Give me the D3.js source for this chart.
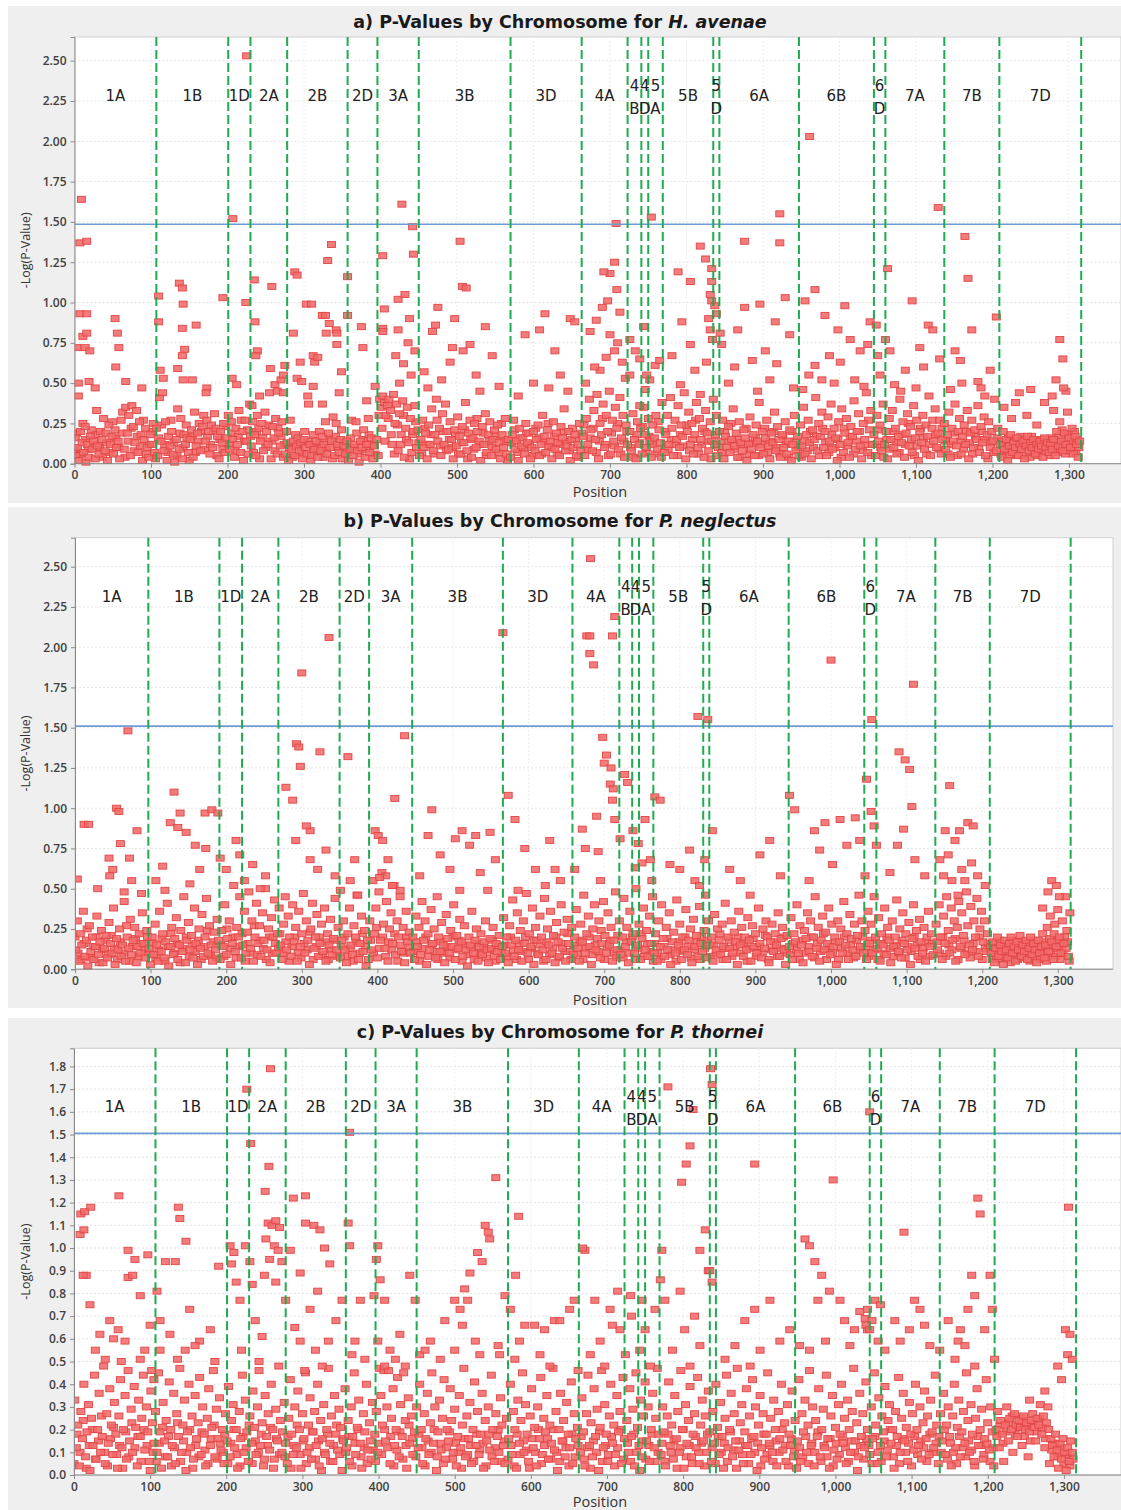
<!DOCTYPE html>
<html><head><meta charset="utf-8">
<script src="https://cdn.jsdelivr.net/npm/d3@7"></script>
<style>body{margin:0;background:#fff;}svg{display:block;font-family:'Open Sans',sans-serif;}</style>
</head><body><svg id="chart" width="1121" height="1510"></svg>
<script>
// ---------- DATA ----------
const chromosomes = ["1A","1B","1D","2A","2B","2D","3A","3B","3D","4A","4B","4D","5A","5B","5D","6A","6B","6D","7A","7B","7D"];
const chromEndsAC = [107,201,230,278,357,396,450,570,663,723,741,750,769,835,843,947,1045,1060,1137,1209,1316];
const chromEndsB  = [97,191,221,269,350,389,446,566,658,720,737,746,765,831,839,944,1044,1060,1138,1210,1317];
const xTickValues = [0,100,200,300,400,500,600,700,800,900,1000,1100,1200,1300];
const yTicksAB = [0,0.25,0.5,0.75,1.0,1.25,1.5,1.75,2.0,2.25,2.5];
const yTicksC = [0,0.1,0.2,0.3,0.4,0.5,0.6,0.7,0.8,0.9,1.0,1.1,1.2,1.3,1.4,1.5,1.6,1.7,1.8];
const thresholdA = 1.485, thresholdB = 1.51, thresholdC = 1.505;

const avenaeHigh = [[9,1.64],[7,1.37],[16,1.38],[7,.93],[16,.93],[11,.79],[16,.81],[3,.72],[14,.72],[20,.7],[5,.5],[5,.42],[19,.51],[27,.47],[53,.9],[56,.81],[58,.72],[54,.6],[67,.51],[88,.47],
[110,1.04],[110,.88],[112,.58],[116,.53],[137,1.12],[141,1.09],[142,.99],[141,.84],[144,.71],[141,.67],[135,.59],[142,.52],[159,.86],[154,.52],[173,.47],[172,.44],
[194,1.03],[207,1.52],[206,.53],[212,.49],[225,2.53],[224,1.0],[235,1.14],[236,.88],[239,.7],[237,.67],[232,.36],[242,.42],[258,1.1],[256,.59],[262,.49],[265,.45],[270,.52],[273,.55],[273,.44],[275,.61],
[286,.81],[288,1.19],[291,1.17],[295,.63],[291,.53],[297,.51],[303,.99],[310,.99],[305,.42],[312,.48],[312,.67],[314,.63],[318,.66],[324,.92],[328,.92],[324,.37],[329,.81],[333,.87],[331,1.26],[336,1.36],[342,.83],[343,.81],[343,.74],[349,.57],[346,.44],
[357,1.16],[357,.92],[375,.85],[377,.72],[382,.39],[393,.48],[403,1.29],[405,.96],[403,.84],[403,.82],[423,1.02],[423,.83],[420,.67],[428,1.61],[442,1.47],[443,1.3],[432,1.05],[438,.9],[436,.75],[445,.7],[430,.62],[440,.55],[425,.5],
[504,1.38],[507,1.1],[512,1.09],[497,.9],[494,.72],[491,.63],[468,.82],[475,.97],[537,.85],[546,.67],[508,.7],[517,.74],[457,.57],[472,.86],[480,.52],[525,.55],[555,.48],[462,.47],[530,.45],
[615,.93],[648,.9],[654,.88],[608,.83],[589,.8],[628,.7],[635,.55],[600,.5],[620,.47],[645,.45],[580,.42],
[708,1.49],[706,1.25],[700,1.18],[692,1.19],[697,1.01],[690,.97],[709,1.08],[713,.94],[682,.89],[674,.82],[700,.8],[706,.7],[716,.63],[720,.53],[687,.58],[726,.55],[695,.66],[680,.6],[710,.75],[668,.5],
[754,1.53],[726,.77],[739,.65],[746,.46],[752,.52],[759,.61],[765,.64],[739,.36],[733,.7],[748,.55],[744,.85],
[789,1.19],[805,1.13],[818,1.35],[825,1.27],[833,1.21],[833,1.13],[831,1.05],[833,1.01],[837,.98],[839,.93],[831,.83],[826,.63],[805,.74],[794,.88],[781,.67],[811,.58],[792,.49],[818,.43],[834,.77],[829,.9],
[844,.81],[846,.74],[876,1.38],[876,.97],[867,.83],[896,.99],[903,.7],[922,1.55],[922,1.37],[929,1.03],[916,.88],[935,.8],[909,.52],[886,.64],[863,.6],[855,.5],[940,.47],[893,.45],[918,.62],
[961,2.03],[968,1.08],[955,1.01],[981,.92],[998,.83],[1007,.98],[1014,.77],[1027,.7],[987,.67],[968,.61],[1040,.88],[1037,.74],[1020,.52],[977,.52],[1001,.63],[960,.55],[993,.5],[1032,.48],[952,.46],
[1048,.86],[1050,.67],[1063,1.21],[1060,.77],[1053,.55],[1095,1.01],[1116,.86],[1122,.83],[1129,1.59],[1105,.72],[1086,.58],[1072,.49],[1110,.6],[1066,.7],[1131,.65],[1100,.47],[1080,.45],
[1164,1.41],[1168,1.15],[1151,.7],[1158,.64],[1173,.83],[1181,.51],[1145,.46],[1197,.58],[1190,.42],[1205,.91],[1160,.5],[1185,.47],
[1288,.77],[1292,.65],[1283,.52],[1293,.47],[1278,.42],[1250,.46],[1230,.38]];

const avenaeLow = [[1,.16],[2,.05],[4,.1],[6,.02],[8,.2],[10,.13],[12,.07],[14,.23],[15,.01],[17,.12],[19,.04],[21,.17],[23,.09],[25,.14],[27,.03],[29,.33],[30,.11],[32,.06],[34,.2],[36,.15],[38,.28],[40,.08],[41,.19],[43,.02],[45,.24],[47,.12],[49,.17],[51,.06],[53,.21],[55,.1],[57,.14],[59,.03],[61,.27],[63,.32],[65,.09],[67,.35],[69,.19],[71,.3],[73,.05],[75,.36],[77,.23],[79,.13],[81,.33],[83,.07],[85,.26],[87,.18],[89,.02],[91,.15],[93,.22],[95,.1],[97,.04],[99,.18],[101,.12],[103,.25],[105,.07],
[107,.22],[109,.05],[111,.41],[113,.14],[115,.44],[117,.08],[119,.26],[121,.02],[123,.17],[125,.11],[127,.2],[129,.06],[131,.01],[133,.15],[135,.34],[137,.09],[139,.28],[141,.03],[143,.18],[145,.12],[147,.16],[149,.07],[151,.15],[153,.21],[155,.04],[157,.32],[159,.11],[161,.19],[163,.25],[165,.08],[167,.23],[169,.3],[171,.14],[173,.27],[175,.2],[177,.06],[179,.24],[181,.1],[183,.31],[185,.22],[187,.17],[189,.03],[191,.2],[193,.13],[195,.25],[197,.07],[199,.16],
[201,.3],[203,.09],[205,.26],[207,.15],[209,.04],[211,.22],[213,.12],[215,.33],[217,.07],[219,.2],[221,.02],[223,.27],[225,.14],[227,.06],
[229,.37],[231,.11],[233,.26],[235,.18],[237,.05],[239,.3],[241,.22],[243,.14],[245,.25],[247,.08],[249,.32],[251,.2],[253,.12],[255,.44],[257,.03],[259,.23],[261,.16],[263,.28],[265,.06],[267,.19],[269,.11],[271,.26],[273,.04],
[276,.06],[278,.13],[280,.02],[282,.27],[284,.09],[286,.14],[288,.05],[290,.11],[292,.16],[294,.08],[296,.13],[298,.03],[300,.15],[302,.1],[304,.06],[306,.37],[308,.12],[310,.05],[312,.18],[314,.09],[316,.14],[318,.04],[320,.2],[322,.08],[324,.17],[326,.12],[328,.26],[330,.06],[332,.19],[334,.1],[336,.14],[338,.29],[340,.05],[342,.25],[344,.12],[346,.07],[348,.15],[350,.03],[352,.11],[354,.06],
[356,.14],[358,.02],[360,.09],[362,.27],[364,.05],[366,.12],[368,.26],[370,.08],[372,.01],[374,.14],[376,.1],[378,.21],[380,.04],[382,.12],[384,.28],[386,.07],[388,.16],[390,.03],[392,.11],
[395,.15],[397,.05],[399,.4],[401,.35],[403,.42],[405,.38],[407,.3],[409,.36],[411,.4],[413,.33],[415,.12],[417,.43],[419,.25],[421,.37],[423,.08],[425,.31],[427,.18],[429,.39],[431,.04],[433,.22],[435,.35],[437,.13],[439,.28],[441,.07],[443,.2],[445,.36],[447,.1],
[449,.21],[451,.05],[453,.15],[455,.27],[457,.1],[459,.19],[461,.03],[463,.24],[465,.12],[467,.34],[469,.08],[471,.18],[473,.4],[475,.14],[477,.22],[479,.05],[481,.31],[483,.12],[485,.37],[487,.2],[489,.09],[491,.26],[493,.15],[495,.03],[497,.21],[499,.11],[501,.29],[503,.17],[505,.06],[507,.23],[509,.13],[511,.38],[513,.08],[515,.19],[517,.27],[519,.04],[521,.16],[523,.25],[525,.1],[527,.2],[529,.14],[531,.02],[533,.23],[535,.12],[537,.31],[539,.07],[541,.18],[543,.26],[545,.05],[547,.15],[549,.21],[551,.09],[553,.24],[555,.13],[557,.03],[559,.18],[561,.1],[563,.28],[565,.06],[567,.15],
[570,.04],[572,.18],[574,.27],[576,.09],[578,.14],[580,.02],[582,.22],[584,.11],[586,.16],[588,.06],[590,.25],[592,.13],[594,.19],[596,.03],[598,.1],[600,.2],[602,.08],[604,.15],[606,.24],[608,.05],[610,.12],[612,.3],[614,.17],[616,.07],[618,.21],[620,.11],[622,.14],[624,.03],[626,.26],[628,.09],[630,.19],[632,.13],[634,.05],[636,.23],[638,.16],[640,.34],[642,.08],[644,.11],[646,.2],[648,.02],[650,.15],[652,.1],[654,.18],[656,.05],[658,.12],[660,.25],[662,.08],
[665,.17],[667,.05],[669,.28],[671,.12],[673,.4],[675,.21],[677,.08],[679,.33],[681,.15],[683,.43],[685,.03],[687,.25],[689,.18],[691,.37],[693,.1],[695,.3],[697,.2],[699,.45],[701,.06],[703,.27],[705,.14],[707,.35],[709,.22],[711,.09],[713,.41],[715,.16],[717,.3],[719,.04],[721,.24],[723,.12],
[726,.2],[728,.08],[730,.31],[732,.15],[734,.03],[736,.26],[738,.12],[740,.22],[742,.06],[744,.35],[746,.18],[748,.1],[750,.28],[752,.14],[754,.04],[756,.24],[758,.16],[760,.3],[762,.09],[764,.21],[766,.13],[768,.38],
[771,.07],[773,.18],[775,.3],[777,.12],[779,.41],[781,.22],[783,.05],[785,.27],[787,.15],[789,.36],[791,.1],[793,.24],[795,.17],[797,.44],[799,.03],[801,.2],[803,.32],[805,.12],[807,.25],[809,.06],[811,.18],[813,.38],[815,.1],[817,.28],[819,.15],[821,.22],[823,.04],[825,.33],[827,.19],[829,.08],[831,.26],[833,.14],[835,.4],
[837,.12],[839,.3],[841,.05],[843,.2],[845,.14],[847,.27],[849,.03],[851,.17],[853,.1],[855,.23],[857,.07],[859,.15],[861,.34],[863,.11],[865,.19],[867,.04],[869,.26],[871,.13],[873,.08],[875,.21],[877,.16],[879,.02],[881,.12],[883,.29],[885,.09],[887,.18],[889,.05],[891,.24],[893,.14],[895,.38],[897,.1],[899,.2],[901,.06],[903,.16],[905,.27],[907,.11],[909,.03],[911,.19],[913,.13],[915,.32],[917,.08],[919,.23],[921,.15],[923,.04],[925,.18],[927,.1],[929,.26],[931,.06],[933,.14],[935,.21],[937,.02],[939,.12],[941,.3],[943,.08],[945,.17],[947,.05],
[949,.24],[951,.11],[953,.35],[955,.06],[957,.18],[959,.27],[961,.13],[963,.03],[965,.21],[967,.15],[969,.41],[971,.08],[973,.25],[975,.17],[977,.32],[979,.1],[981,.2],[983,.05],[985,.29],[987,.14],[989,.37],[991,.09],[993,.22],[995,.16],[997,.02],[999,.26],[1001,.12],[1003,.34],[1005,.07],[1007,.19],[1009,.28],[1011,.13],[1013,.04],[1015,.23],[1017,.17],[1019,.39],[1021,.09],[1023,.2],[1025,.31],[1027,.11],[1029,.03],[1031,.25],[1033,.15],[1035,.44],[1037,.07],[1039,.21],[1041,.33],[1043,.12],
[1045,.18],[1047,.05],[1049,.3],[1051,.14],[1053,.24],[1055,.08],[1057,.37],[1059,.12],[1061,.2],[1063,.03],[1065,.28],[1067,.15],[1069,.33],[1071,.1],[1073,.22],[1075,.06],[1077,.17],[1079,.4],[1081,.13],[1083,.26],[1085,.04],[1087,.19],[1089,.31],[1091,.11],[1093,.23],[1095,.07],[1097,.36],[1099,.16],[1101,.27],[1103,.02],[1105,.2],[1107,.13],[1109,.3],[1111,.09],[1113,.24],[1115,.17],[1117,.42],[1119,.05],[1121,.22],[1123,.14],[1125,.34],[1127,.1],[1129,.19],[1131,.27],[1133,.06],[1135,.15],
[1137,.25],[1139,.09],[1141,.18],[1143,.32],[1145,.04],[1147,.22],[1149,.14],[1151,.37],[1153,.11],[1155,.2],[1157,.28],[1159,.06],[1161,.17],[1163,.24],[1165,.12],[1167,.33],[1169,.03],[1171,.19],[1173,.27],[1175,.1],[1177,.21],[1179,.15],[1181,.36],[1183,.07],[1185,.23],[1187,.13],[1189,.29],[1191,.05],[1193,.18],[1195,.26],[1197,.1],[1199,.2],[1201,.14],[1203,.4],[1205,.08],[1207,.22],
[1210,.12],[1212,.04],[1214,.2],[1216,.09],[1218,.15],[1220,.02],[1222,.11],[1224,.18],[1226,.07],[1228,.13],[1230,.1],[1232,.16],[1234,.05],[1236,.12],[1238,.09],[1240,.14],[1242,.03],[1244,.11],[1246,.17],[1248,.08],[1250,.13],[1252,.1],[1254,.15],[1256,.06],[1258,.12],[1260,.09],[1262,.14],[1264,.11],[1266,.04],[1268,.16],[1270,.1],[1272,.13],[1274,.07],[1276,.12],[1278,.09],[1280,.15],[1282,.05],[1284,.2],[1286,.11],[1288,.26],[1290,.14],[1292,.08],[1294,.19],[1296,.12],[1298,.32],[1300,.16],[1302,.1],[1304,.22],[1306,.06],[1308,.17],[1310,.12],[1312,.04],[1314,.14],
[1215,.35],[1225,.28],[1235,.44],[1245,.3],[1258,.24],[1268,.38],[1280,.33],[1296,.45]];

const avenaeExtra = [[0,.08],[3,.19],[8,.06],[11,.25],[14,.15],[18,.09],[22,.21],[26,.12],[28,.18],[33,.1],[37,.04],[42,.13],[46,.07],[50,.26],[54,.16],[58,.1],[62,.19],[66,.04],[70,.14],[74,.22],[78,.08],[82,.17],[86,.11],[90,.27],[94,.06],[98,.12],[102,.2],[106,.03],
[110,.16],[114,.24],[118,.12],[122,.07],[126,.27],[130,.13],[134,.05],[138,.19],[142,.1],[146,.24],[150,.02],[154,.17],[158,.07],[162,.14],[166,.2],[170,.09],[174,.17],[178,.12],[182,.2],[186,.05],[190,.15],[194,.09],[198,.23],
[202,.12],[206,.19],[210,.08],[214,.17],[218,.27],[222,.14],[226,.21],[230,.17],[234,.07],[238,.2],[242,.03],[246,.16],[250,.1],[254,.24],[258,.14],[262,.08],[266,.22],[270,.17],[274,.12],
[277,.2],[281,.1],[285,.04],[289,.18],[293,.12],[297,.07],[301,.2],[305,.14],[309,.02],[313,.11],[317,.07],[321,.13],[325,.04],[329,.1],[333,.15],[337,.03],[341,.17],[345,.1],[349,.21],[353,.13],
[357,.07],[361,.16],[365,.1],[369,.19],[373,.06],[377,.15],[381,.09],[385,.18],[389,.12],[393,.06],
[398,.3],[402,.22],[406,.14],[410,.28],[414,.18],[418,.06],[422,.24],[426,.12],[430,.3],[434,.15],[438,.03],[442,.18],[446,.26],
[450,.13],[454,.07],[458,.22],[462,.12],[466,.18],[470,.06],[474,.27],[478,.11],[482,.2],[486,.08],[490,.15],[494,.1],[498,.18],[502,.06],[506,.13],[510,.21],[514,.03],[518,.15],[522,.09],[526,.28],[530,.12],[534,.19],[538,.05],[542,.14],[546,.1],[550,.17],[554,.07],[558,.25],[562,.14],[566,.02],
[571,.13],[575,.21],[579,.07],[583,.16],[587,.1],[591,.19],[595,.12],[599,.05],[603,.22],[607,.16],[611,.06],[615,.14],[619,.25],[623,.1],[627,.17],[631,.06],[635,.12],[639,.2],[643,.14],[647,.08],[651,.22],[655,.15],[659,.04],[663,.19],
[666,.24],[670,.09],[674,.16],[678,.22],[682,.07],[686,.14],[690,.28],[694,.12],[698,.05],[702,.19],[706,.11],[710,.25],[714,.06],[718,.14],[722,.2],
[727,.1],[731,.04],[735,.18],[739,.13],[743,.23],[747,.07],[751,.17],[755,.12],[759,.06],[763,.26],[767,.04],
[772,.2],[776,.09],[780,.15],[784,.12],[788,.05],[792,.18],[796,.11],[800,.24],[804,.08],[808,.15],[812,.27],[816,.06],[820,.12],[824,.2],[828,.14],[832,.03],
[838,.18],[842,.1],[846,.07],[850,.2],[854,.14],[858,.25],[862,.09],[866,.15],[870,.04],[874,.12],[878,.22],[882,.06],[886,.13],[890,.16],[894,.05],[898,.12],[902,.22],[906,.07],[910,.14],[914,.2],[918,.1],[922,.06],[926,.17],[930,.12],[934,.04],[938,.2],[942,.14],[946,.1],
[950,.04],[954,.14],[958,.08],[962,.2],[966,.1],[970,.17],[974,.05],[978,.22],[982,.13],[986,.07],[990,.18],[994,.1],[998,.15],[1002,.04],[1006,.22],[1010,.11],[1014,.17],[1018,.06],[1022,.14],[1026,.2],[1030,.08],[1034,.12],[1038,.27],[1042,.05],
[1046,.12],[1050,.21],[1054,.1],[1058,.04],[1062,.15],[1066,.09],[1070,.2],[1074,.13],[1078,.07],[1082,.18],[1086,.12],[1090,.25],[1094,.15],[1098,.05],[1102,.11],[1106,.22],[1110,.16],[1114,.06],[1118,.12],[1122,.27],[1126,.18],[1130,.09],[1134,.22],
[1138,.14],[1142,.06],[1146,.12],[1150,.19],[1154,.05],[1158,.14],[1162,.09],[1166,.2],[1170,.13],[1174,.06],[1178,.17],[1182,.1],[1186,.2],[1190,.15],[1194,.03],[1198,.13],[1202,.07],[1206,.16],
[1211,.06],[1213,.14],[1217,.12],[1219,.08],[1221,.16],[1223,.05],[1227,.14],[1229,.09],[1231,.06],[1233,.13],[1237,.17],[1239,.05],[1241,.1],[1243,.15],[1247,.12],[1249,.04],[1251,.17],[1253,.07],[1255,.11],[1257,.14],[1259,.05],[1261,.12],[1263,.08],[1265,.15],[1267,.1],[1269,.07],[1271,.15],[1273,.1],[1275,.05],[1277,.16],[1279,.12],[1281,.1],[1283,.14],[1285,.07],[1287,.17],[1289,.09],[1291,.21],[1293,.13],[1295,.06],[1297,.1],[1299,.18],[1301,.08],[1303,.14],[1305,.11],[1307,.2],[1309,.07],[1311,.15],[1313,.1]];

const neglectusHigh = [[70,1.48],[12,.9],[18,.9],[55,1.0],[58,.98],[45,.69],[50,.62],[46,.58],[72,.69],[82,.86],[75,.55],[88,.47],[3,.56],[60,.78],[65,.48],[30,.5],
[131,1.1],[126,.91],[136,.88],[139,.97],[147,.85],[159,.77],[172,.97],[181,.99],[189,.97],[173,.75],[116,.64],[107,.55],[119,.49],[152,.53],[165,.62],
[192,.69],[200,.62],[218,.71],[224,.55],[213,.8],[235,.65],[245,.5],[252,.58],
[300,1.84],[336,2.06],[293,1.4],[296,1.38],[279,1.13],[288,1.05],[298,1.26],[311,.86],[306,.89],[324,1.35],[311,.68],[292,.8],[321,.62],[332,.74],[344,.58],[351,.49],
[361,1.32],[370,.68],[364,.55],[374,.46],
[436,1.45],[423,1.06],[397,.86],[401,.83],[407,.8],[414,.68],[411,.58],[403,.57],[420,.52],[430,.49],
[472,.99],[467,.83],[483,.71],[503,.81],[512,.86],[530,.83],[549,.85],[522,.77],[556,.68],[536,.6],[496,.62],[509,.49],[456,.58],[546,.49],
[566,2.09],[573,1.08],[582,.93],[595,.75],[609,.62],[628,.8],[635,.62],[622,.52],[642,.55],[586,.49],
[682,2.55],[677,2.07],[681,2.07],[711,2.07],[714,2.19],[681,1.96],[686,1.89],[698,1.44],[703,1.33],[700,1.28],[709,1.25],[727,1.21],[731,1.16],[708,1.15],[712,1.12],[671,.87],[675,.75],[690,.95],[692,.73],[711,1.05],[714,.93],[721,.81],[661,.62],[695,.55],
[738,.86],[745,.78],[750,.66],[761,.68],[767,1.07],[774,1.05],[754,.93],[741,.63],[763,.55],
[824,1.57],[813,.74],[800,.62],[820,.55],[787,.65],[833,.68],[826,.52],
[837,1.55],[843,.86],[880,.55],[906,.71],[919,.8],[945,1.08],[952,.99],[933,.58],[893,.46],[866,.62],
[1000,1.92],[978,.86],[992,.91],[1012,.93],[1032,.94],[1021,.77],[985,.74],[1002,.65],[1045,.58],[971,.55],[1038,.8],
[1047,1.18],[1053,.98],[1057,.89],[1060,.77],[1054,1.55],[1090,1.35],[1098,1.3],[1104,1.24],[1107,1.01],[1109,1.77],[1088,.77],[1096,.87],[1111,.68],[1078,.6],[1124,.58],
[1157,1.14],[1151,.86],[1164,.8],[1170,.86],[1181,.91],[1188,.89],[1144,.68],[1155,.71],[1173,.62],[1186,.66],[1194,.58],[1204,.52],[1160,.55],[1168,.46],[1149,.58],[1177,.55],
[1292,.55],[1298,.52],[1302,.45],[1287,.48],[1280,.38]];

const neglectusLow = [[1,.12],[3,.3],[5,.05],[7,.22],[9,.15],[11,.36],[13,.08],[15,.18],[17,.02],[19,.27],[21,.11],[23,.2],[25,.06],[27,.14],[29,.33],[31,.09],[33,.17],[35,.24],[37,.04],[39,.13],[41,.21],[43,.07],[45,.29],[47,.16],[49,.1],[51,.38],[53,.03],[55,.19],[57,.12],[59,.25],[61,.08],[63,.15],[65,.42],[67,.05],[69,.2],[71,.13],[73,.31],[75,.09],[77,.18],[79,.26],[81,.04],[83,.14],[85,.22],[87,.1],[89,.35],[91,.16],[93,.07],[95,.24],
[98,.13],[100,.03],[102,.2],[104,.09],[106,.28],[108,.15],[110,.05],[112,.36],[114,.11],[116,.22],[118,.07],[120,.17],[122,.41],[124,.02],[126,.14],[128,.26],[130,.09],[132,.19],[134,.32],[136,.06],[138,.15],[140,.24],[142,.11],[144,.45],[146,.04],[148,.18],[150,.29],[152,.12],[154,.21],[156,.07],[158,.38],[160,.16],[162,.03],[164,.25],[166,.13],[168,.34],[170,.08],[172,.2],[174,.44],[176,.1],[178,.27],[180,.15],[182,.05],[184,.23],[186,.12],[188,.31],[190,.18],
[192,.06],[194,.24],[196,.14],[198,.4],[200,.09],[202,.19],[204,.3],[206,.03],[208,.16],[210,.52],[212,.11],[214,.26],[216,.2],[218,.45],[220,.07],[222,.15],[224,.36],[226,.1],[228,.23],[230,.48],[232,.13],[234,.3],[236,.05],[238,.2],[240,.41],[242,.16],[244,.27],[246,.08],[248,.35],[250,.18],[252,.5],[254,.12],[256,.25],[258,.04],[260,.32],[262,.2],[264,.43],[266,.1],[268,.22],
[270,.38],[272,.15],[274,.06],[276,.28],[278,.45],[280,.12],[282,.33],[284,.2],[286,.08],[288,.4],[290,.17],[292,.26],[294,.05],[296,.36],[298,.14],[300,.22],[302,.47],[304,.1],[306,.3],[308,.18],[310,.03],[312,.25],[314,.41],[316,.13],[318,.2],[320,.34],[322,.08],[324,.16],[326,.28],[328,.11],[330,.38],[332,.05],[334,.22],[336,.15],[338,.31],[340,.09],[342,.19],[344,.44],[346,.12],[348,.26],
[351,.07],[353,.18],[355,.3],[357,.12],[359,.04],[361,.22],[363,.38],[365,.15],[367,.09],[369,.27],[371,.2],[373,.46],[375,.06],[377,.16],[379,.33],[381,.11],[383,.24],[385,.02],[387,.18],
[390,.3],[392,.12],[394,.55],[396,.22],[398,.38],[400,.07],[402,.48],[404,.18],[406,.6],[408,.28],[410,.13],[412,.42],[414,.05],[416,.25],[418,.35],[420,.16],[422,.52],[424,.09],[426,.3],[428,.2],[430,.45],[432,.11],[434,.26],[436,.04],[438,.36],[440,.17],[442,.23],[444,.1],
[447,.2],[449,.06],[451,.33],[453,.14],[455,.26],[457,.09],[459,.42],[461,.18],[463,.3],[465,.03],[467,.22],[469,.12],[471,.37],[473,.16],[475,.25],[477,.07],[479,.45],[481,.2],[483,.11],[485,.29],[487,.15],[489,.04],[491,.34],[493,.19],[495,.1],[497,.24],[499,.14],[501,.4],[503,.06],[505,.21],[507,.13],[509,.31],[511,.17],[513,.08],[515,.27],[517,.12],[519,.02],[521,.2],[523,.15],[525,.36],[527,.1],[529,.18],[531,.25],[533,.05],[535,.14],[537,.22],[539,.09],[541,.17],[543,.3],[545,.12],[547,.04],[549,.19],[551,.13],[553,.26],[555,.08],[557,.16],[559,.11],[561,.21],[563,.06],[565,.14],
[567,.32],[569,.1],[571,.2],[573,.04],[575,.27],[577,.15],[579,.43],[581,.08],[583,.18],[585,.35],[587,.12],[589,.24],[591,.05],[593,.3],[595,.16],[597,.47],[599,.1],[601,.22],[603,.14],[605,.38],[607,.03],[609,.26],[611,.18],[613,.09],[615,.33],[617,.2],[619,.12],[621,.44],[623,.06],[625,.25],[627,.15],[629,.36],[631,.1],[633,.21],[635,.04],[637,.29],[639,.17],[641,.08],[643,.4],[645,.13],[647,.23],[649,.05],[651,.31],[653,.16],[655,.11],[657,.26],
[659,.09],[661,.2],[663,.37],[665,.13],[667,.05],[669,.28],[671,.17],[673,.46],[675,.1],[677,.22],[679,.33],[681,.14],[683,.03],[685,.25],[687,.4],[689,.12],[691,.19],[693,.3],[695,.07],[697,.16],[699,.42],[701,.21],[703,.1],[705,.35],[707,.15],[709,.26],[711,.05],[713,.18],[715,.48],[717,.12],
[720,.3],[722,.09],[724,.2],[726,.44],[728,.14],[730,.26],[732,.04],[734,.36],[736,.17],[738,.22],[740,.1],[742,.5],[744,.15],[746,.28],[748,.06],[750,.19],[752,.38],[754,.12],[756,.24],[758,.08],[760,.33],[762,.16],[764,.45],
[766,.1],[768,.22],[770,.05],[772,.3],[774,.14],[776,.4],[778,.19],[780,.08],[782,.26],[784,.12],[786,.35],[788,.03],[790,.17],[792,.23],[794,.1],[796,.43],[798,.15],[800,.28],[802,.06],[804,.2],[806,.12],[808,.37],[810,.09],[812,.18],[814,.25],[816,.04],[818,.31],[820,.14],[822,.21],[824,.08],[826,.39],[828,.16],[830,.11],
[832,.24],[834,.46],[836,.07],[838,.3],[840,.15],[842,.2],[844,.05],[846,.34],[848,.12],[850,.25],[852,.18],[854,.09],[856,.28],[858,.14],[860,.41],[862,.06],[864,.2],[866,.13],[868,.3],[870,.1],[872,.23],[874,.17],[876,.03],[878,.36],[880,.15],[882,.26],[884,.08],[886,.2],[888,.12],[890,.32],[892,.18],[894,.05],[896,.27],[898,.14],[900,.22],[902,.1],[904,.38],[906,.16],[908,.07],[910,.25],[912,.13],[914,.3],[916,.2],[918,.04],[920,.17],[922,.28],[924,.11],[926,.22],[928,.15],[930,.35],[932,.08],[934,.19],[936,.26],[938,.12],[940,.03],[942,.21],
[945,.14],[947,.32],[949,.06],[951,.22],[953,.17],[955,.4],[957,.1],[959,.27],[961,.15],[963,.04],[965,.24],[967,.19],[969,.35],[971,.11],[973,.3],[975,.08],[977,.2],[979,.45],[981,.13],[983,.26],[985,.05],[987,.18],[989,.33],[991,.12],[993,.23],[995,.16],[997,.38],[999,.09],[1001,.28],[1003,.14],[1005,.2],[1007,.03],[1009,.3],[1011,.17],[1013,.25],[1015,.1],[1017,.42],[1019,.15],[1021,.22],[1023,.06],[1025,.34],[1027,.19],[1029,.12],[1031,.28],[1033,.08],[1035,.21],[1037,.46],[1039,.14],[1041,.3],[1043,.1],
[1045,.24],[1047,.06],[1049,.36],[1051,.16],[1053,.28],[1055,.1],[1057,.45],[1059,.2],[1061,.13],[1063,.32],[1065,.05],[1067,.22],[1069,.15],[1071,.38],[1073,.09],[1075,.26],[1077,.18],[1079,.04],[1081,.3],[1083,.14],[1085,.2],[1087,.43],[1089,.11],[1091,.25],[1093,.07],[1095,.35],[1097,.16],[1099,.22],[1101,.12],[1103,.29],[1105,.03],[1107,.19],[1109,.4],[1111,.13],[1113,.24],[1115,.08],[1117,.31],[1119,.17],[1121,.1],[1123,.26],[1125,.05],[1127,.2],[1129,.36],[1131,.14],[1133,.22],[1135,.09],
[1139,.28],[1141,.12],[1143,.4],[1145,.2],[1147,.06],[1149,.33],[1151,.16],[1153,.45],[1155,.24],[1157,.1],[1159,.38],[1161,.18],[1163,.3],[1165,.05],[1167,.26],[1169,.42],[1171,.14],[1173,.35],[1175,.21],[1177,.09],[1179,.48],[1181,.27],[1183,.15],[1185,.39],[1187,.12],[1189,.3],[1191,.2],[1193,.44],[1195,.08],[1197,.25],[1199,.36],[1201,.17],[1203,.3],[1205,.11],[1207,.22],
[1212,.1],[1214,.17],[1216,.04],[1218,.13],[1220,.2],[1222,.08],[1224,.15],[1226,.11],[1228,.03],[1230,.18],[1232,.12],[1234,.07],[1236,.16],[1238,.2],[1240,.1],[1242,.14],[1244,.05],[1246,.17],[1248,.12],[1250,.21],[1252,.08],[1254,.15],[1256,.11],[1258,.18],[1260,.06],[1262,.13],[1264,.2],[1266,.09],[1268,.16],[1270,.12],[1272,.04],[1274,.18],[1276,.1],[1278,.14],[1280,.22],[1282,.07],[1284,.15],[1286,.26],[1288,.11],[1290,.33],[1292,.17],[1294,.06],[1296,.28],[1298,.14],[1300,.37],[1302,.2],[1304,.1],[1306,.3],[1308,.16],[1310,.45],[1312,.24],[1314,.08],[1316,.35]];

const neglectusExtra = [[0,.2],[4,.1],[8,.06],[12,.16],[16,.25],[20,.07],[24,.14],[28,.2],[32,.04],[36,.12],[40,.18],[44,.09],[48,.21],[52,.13],[56,.06],[60,.17],[64,.1],[68,.27],[72,.05],[76,.14],[80,.19],[84,.08],[88,.16],[92,.12],[96,.2],
[99,.1],[103,.16],[107,.07],[111,.12],[115,.19],[119,.05],[123,.14],[127,.22],[131,.1],[135,.16],[139,.04],[143,.13],[147,.2],[151,.08],[155,.15],[159,.11],[163,.18],[167,.06],[171,.14],[175,.24],[179,.09],[183,.17],[187,.07],
[193,.15],[197,.08],[201,.25],[205,.13],[209,.2],[213,.07],[217,.14],[221,.22],[225,.05],[229,.16],[233,.1],[237,.27],[241,.09],[245,.18],[249,.13],[253,.06],[257,.2],[261,.1],[265,.16],[269,.13],
[271,.22],[275,.1],[279,.17],[283,.05],[287,.14],[291,.2],[295,.1],[299,.07],[303,.16],[307,.12],[311,.23],[315,.06],[319,.14],[323,.2],[327,.09],[331,.17],[335,.06],[339,.12],[343,.18],[347,.08],
[352,.14],[356,.2],[360,.08],[364,.13],[368,.05],[372,.17],[376,.1],[380,.22],[384,.14],[388,.06],
[391,.18],[395,.1],[399,.26],[403,.13],[407,.2],[411,.08],[415,.17],[419,.12],[423,.22],[427,.05],[431,.15],[435,.1],[439,.2],[443,.14],
[448,.11],[452,.17],[456,.05],[460,.13],[464,.2],[468,.08],[472,.15],[476,.11],[480,.06],[484,.17],[488,.1],[492,.14],[496,.07],[500,.2],[504,.12],[508,.18],[512,.05],[516,.15],[520,.09],[524,.13],[528,.06],[532,.16],[536,.1],[540,.14],[544,.07],[548,.12],[552,.18],[556,.05],[560,.14],[564,.1],
[568,.15],[572,.08],[576,.2],[580,.12],[584,.06],[588,.16],[592,.11],[596,.2],[600,.06],[604,.13],[608,.18],[612,.1],[616,.15],[620,.05],[624,.17],[628,.09],[632,.13],[636,.2],[640,.07],[644,.16],[648,.11],[652,.22],[656,.06],
[660,.15],[664,.1],[668,.18],[672,.06],[676,.13],[680,.2],[684,.09],[688,.15],[692,.11],[696,.24],[700,.06],[704,.14],[708,.18],[712,.1],[716,.07],[718,.21],
[721,.12],[725,.07],[729,.17],[733,.1],[737,.2],[741,.06],[745,.13],[749,.22],[753,.08],[757,.16],[761,.11],[765,.05],
[767,.16],[771,.1],[775,.06],[779,.14],[783,.19],[787,.09],[791,.12],[795,.05],[799,.17],[803,.11],[807,.2],[811,.14],[815,.07],[819,.12],[823,.17],[827,.06],[829,.2],
[833,.13],[837,.18],[841,.08],[845,.15],[849,.1],[853,.22],[857,.06],[861,.13],[865,.18],[869,.08],[873,.14],[877,.2],[881,.1],[885,.16],[889,.05],[893,.13],[897,.19],[901,.08],[905,.14],[909,.1],[913,.21],[917,.06],[921,.12],[925,.17],[929,.08],[933,.13],[937,.2],[941,.1],
[946,.09],[950,.16],[954,.12],[958,.06],[962,.18],[966,.1],[970,.14],[974,.2],[978,.07],[982,.16],[986,.11],[990,.22],[994,.06],[998,.14],[1002,.1],[1006,.17],[1010,.06],[1014,.13],[1018,.2],[1022,.1],[1026,.15],[1030,.07],[1034,.18],[1038,.12],[1042,.2],
[1046,.14],[1050,.08],[1054,.18],[1058,.12],[1062,.06],[1066,.16],[1070,.1],[1074,.2],[1078,.13],[1082,.08],[1086,.15],[1090,.1],[1094,.18],[1098,.07],[1102,.14],[1106,.11],[1110,.2],[1114,.15],[1118,.06],[1122,.13],[1126,.17],[1130,.08],[1134,.16],
[1140,.17],[1144,.1],[1148,.2],[1152,.08],[1156,.15],[1160,.12],[1164,.19],[1168,.06],[1172,.13],[1176,.18],[1180,.1],[1184,.07],[1188,.16],[1192,.11],[1196,.2],[1200,.06],[1204,.13],[1208,.16],
[1211,.14],[1213,.06],[1215,.11],[1217,.16],[1219,.08],[1221,.13],[1223,.18],[1225,.06],[1227,.14],[1229,.1],[1231,.07],[1233,.15],[1235,.11],[1237,.04],[1239,.13],[1241,.18],[1243,.09],[1245,.12],[1247,.06],[1249,.15],[1251,.11],[1253,.17],[1255,.07],[1257,.13],[1259,.1],[1261,.16],[1263,.05],[1265,.12],[1267,.18],[1269,.08],[1271,.14],[1273,.1],[1275,.16],[1277,.06],[1279,.12],[1281,.17],[1283,.1],[1285,.05],[1287,.14],[1289,.19],[1291,.1],[1293,.15],[1295,.22],[1297,.08],[1299,.13],[1301,.18],[1303,.06],[1305,.15],[1307,.1],[1309,.2],[1311,.13],[1313,.17],[1315,.05]];

const thorneiHigh = [[9,1.15],[14,1.16],[22,1.18],[59,1.23],[8,1.06],[13,1.08],[16,.88],[21,.75],[71,.99],[80,.95],[71,.87],[77,.88],[97,.97],[87,.79],[47,.68],[58,.64],[67,.59],[34,.62],[28,.55],[41,.51],[100,.66],[93,.55],[87,.51],[102,.46],[105,.42],[12,.88],[52,.6],[62,.5],
[137,1.18],[139,1.13],[147,1.03],[120,.94],[109,.81],[113,.68],[133,.94],[152,.73],[165,.59],[126,.62],[113,.55],[146,.55],[159,.57],[136,.51],[179,.64],[190,.92],[185,.5],
[227,1.7],[258,1.79],[232,1.46],[256,1.36],[251,1.25],[288,1.22],[304,1.23],
[255,1.11],[260,1.1],[265,1.12],[270,1.09],[252,1.04],[263,1.01],[268,.99],[257,.95],[273,.94],[250,.88],[265,.85],[234,.84],[205,1.01],[210,.98],[207,.93],[213,.85],[225,1.01],[231,.94],[218,.77],[238,.68],[247,.61],[284,.99],[278,.77],[220,.55],[243,.5],
[304,1.11],[315,1.1],[323,1.08],[329,1.0],[336,.93],[297,.89],[310,.73],[320,.81],[344,.68],[352,.77],[297,.59],[317,.55],[334,.59],[326,.48],[303,.46],[290,.65],
[362,1.51],[360,1.11],[362,1.01],[376,.77],[369,.59],[382,.51],[365,.53],
[399,1.01],[397,.95],[402,.86],[394,.79],[408,.77],[428,.62],[441,.88],[448,.77],[415,.55],[422,.51],[435,.48],[399,.59],[408,.48],[454,.53],
[554,1.31],[540,1.1],[544,1.07],[546,1.04],[530,.98],[536,.94],[520,.89],[513,.82],[500,.77],[507,.73],[517,.77],[510,.66],[487,.68],[468,.59],[527,.59],[481,.51],[533,.53],[500,.55],[557,.57],[461,.55],
[584,1.14],[580,.88],[566,.79],[573,.73],[605,.66],[585,.59],[618,.64],[631,.68],[638,.68],[592,.66],[612,.53],[651,.73],[657,.77],[579,.51],[625,.48],[559,.53],
[671,.99],[668,1.0],[684,.77],[704,.73],[707,.66],[691,.59],[678,.53],[717,.64],[714,.81],[697,.48],[662,.46],
[731,.79],[732,.7],[746,.77],[750,.64],[763,.73],[770,.86],[772,.99],[743,.55],[724,.53],[757,.48],
[780,1.71],[798,1.29],[804,1.37],[813,1.61],[809,1.45],[829,1.08],[822,.99],[838,.85],[833,.9],[796,.81],[776,.77],[815,.7],[802,.64],[786,.55],[822,.57],[809,.48],
[836,1.79],[838,1.72],[835,.9],
[894,1.37],[894,.73],[881,.68],[914,.77],[927,.59],[940,.64],[901,.55],[868,.57],[855,.51],[888,.48],
[997,1.3],[960,1.04],[966,1.01],[973,.94],[982,.88],[992,.81],[977,.77],[1006,.77],[1012,.68],[1025,.64],[1032,.72],[1039,.69],[1019,.57],[987,.59],[966,.55],[953,.57],[1042,.64],
[1045,1.6],[1042,.73],[1048,.68],[1040,.66],[1045,.64],[1056,.59],[1052,.77],[1059,.75],
[1090,1.07],[1104,.77],[1111,.73],[1097,.64],[1085,.59],[1117,.66],[1078,.68],[1124,.57],[1137,.55],[1065,.55],
[1187,1.22],[1190,1.15],[1179,.88],[1183,.79],[1174,.73],[1203,.88],[1206,.73],[1164,.64],[1161,.59],[1148,.68],[1170,.57],[1196,.64],[1209,.51],[1157,.51],[1183,.48],
[1306,1.18],[1302,.64],[1308,.62],[1305,.53],[1311,.51],[1297,.42],[1292,.48],[1275,.37],[1255,.33]];

const thorneiLow = [[1,.33],[3,.12],[5,.22],[7,.04],[9,.28],[11,.16],[13,.4],[15,.08],[17,.19],[19,.31],[21,.02],[23,.25],[25,.13],[27,.44],[29,.07],[31,.2],[33,.36],[35,.1],[37,.17],[39,.48],[41,.05],[43,.27],[45,.14],[47,.38],[49,.22],[51,.09],[53,.32],[55,.18],[57,.03],[59,.26],[61,.42],[63,.12],[65,.2],[67,.35],[69,.07],[71,.46],[73,.15],[75,.29],[77,.1],[79,.39],[81,.21],[83,.04],[85,.33],[87,.17],[89,.25],[91,.44],[93,.11],[95,.3],[97,.19],[99,.06],[101,.37],[103,.23],[105,.14],
[107,.28],[109,.1],[111,.45],[113,.19],[115,.03],[117,.32],[119,.15],[121,.24],[123,.08],[125,.41],[127,.2],[129,.13],[131,.36],[133,.05],[135,.27],[137,.17],[139,.47],[141,.1],[143,.22],[145,.33],[147,.02],[149,.19],[151,.4],[153,.12],[155,.26],[157,.07],[159,.35],[161,.16],[163,.23],[165,.43],[167,.09],[169,.3],[171,.18],[173,.04],[175,.25],[177,.38],[179,.13],[181,.21],[183,.46],[185,.08],[187,.29],[189,.16],[191,.34],[193,.11],[195,.2],[197,.05],[199,.27],
[201,.15],[203,.39],[205,.08],[207,.24],[209,.31],[211,.12],[213,.2],[215,.03],[217,.28],[219,.16],[221,.44],[223,.1],[225,.33],[227,.19],[229,.06],[231,.26],[233,.14],[235,.37],[237,.21],[239,.09],[241,.3],[243,.46],[245,.13],[247,.23],[249,.04],[251,.35],[253,.17],[255,.27],[257,.11],[259,.4],[261,.2],[263,.07],[265,.29],[267,.15],[269,.48],[271,.24],[273,.1],
[276,.32],[278,.14],[280,.05],[282,.25],[284,.42],[286,.18],[288,.09],[290,.3],[292,.12],[294,.37],[296,.2],[298,.03],[300,.27],[302,.16],[304,.45],[306,.1],[308,.22],[310,.34],[312,.07],[314,.19],[316,.28],[318,.13],[320,.4],[322,.04],[324,.24],[326,.16],[328,.31],[330,.09],[332,.2],[334,.47],[336,.14],[338,.26],[340,.06],[342,.35],[344,.18],[346,.11],[348,.29],[350,.21],[352,.02],[354,.15],
[356,.38],[358,.12],[360,.24],[362,.06],[364,.3],[366,.17],[368,.45],[370,.09],[372,.21],[374,.33],[376,.14],[378,.03],[380,.27],[382,.19],[384,.4],[386,.11],[388,.23],[390,.07],[392,.32],
[395,.18],[397,.28],[399,.1],[401,.47],[403,.35],[405,.22],[407,.46],[409,.15],[411,.3],[413,.46],[415,.05],[417,.25],[419,.38],[421,.13],[423,.2],[425,.43],[427,.08],[429,.31],[431,.17],[433,.45],[435,.24],[437,.03],[439,.34],[441,.14],[443,.26],[445,.09],[447,.19],
[450,.3],[452,.12],[454,.4],[456,.2],[458,.05],[460,.27],[462,.16],[464,.36],[466,.09],[468,.23],[470,.45],[472,.14],[474,.3],[476,.02],[478,.19],[480,.33],[482,.11],[484,.25],[486,.42],[488,.07],[490,.2],[492,.15],[494,.38],[496,.24],[498,.1],[500,.29],[502,.04],[504,.17],[506,.35],[508,.12],[510,.22],[512,.47],[514,.08],[516,.26],[518,.16],[520,.32],[522,.05],[524,.2],[526,.41],[528,.13],[530,.28],[532,.09],[534,.18],[536,.36],[538,.03],[540,.24],[542,.15],[544,.3],[546,.11],[548,.44],[550,.2],[552,.06],[554,.27],[556,.17],[558,.1],[560,.34],[562,.22],[564,.13],[566,.05],[568,.25],
[571,.16],[573,.4],[575,.09],[577,.28],[579,.2],[581,.03],[583,.33],[585,.14],[587,.24],[589,.45],[591,.1],[593,.31],[595,.18],[597,.06],[599,.26],[601,.38],[603,.12],[605,.21],[607,.04],[609,.3],[611,.16],[613,.43],[615,.09],[617,.25],[619,.19],[621,.35],[623,.07],[625,.22],[627,.14],[629,.47],[631,.11],[633,.28],[635,.02],[637,.2],[639,.36],[641,.15],[643,.24],[645,.08],[647,.32],[649,.18],[651,.12],[653,.41],[655,.05],[657,.27],[659,.16],[661,.21],
[665,.1],[667,.34],[669,.19],[671,.04],[673,.27],[675,.44],[677,.13],[679,.23],[681,.08],[683,.38],[685,.17],[687,.29],[689,.02],[691,.21],[693,.46],[695,.12],[697,.31],[699,.18],[701,.06],[703,.26],[705,.4],[707,.14],[709,.22],[711,.09],[713,.35],[715,.19],[717,.28],[719,.05],[721,.43],[723,.16],
[726,.24],[728,.1],[730,.38],[732,.17],[734,.29],[736,.04],[738,.45],[740,.21],[742,.13],[744,.33],[746,.08],[748,.26],[750,.41],[752,.15],[754,.3],[756,.06],[758,.2],[760,.36],[762,.12],[764,.25],[766,.47],[768,.18],
[771,.09],[773,.3],[775,.19],[777,.04],[779,.26],[781,.41],[783,.13],[785,.22],[787,.07],[789,.35],[791,.16],[793,.28],[795,.1],[797,.46],[799,.2],[801,.03],[803,.31],[805,.14],[807,.24],[809,.39],[811,.08],[813,.18],[815,.27],[817,.12],[819,.43],[821,.05],[823,.22],[825,.33],[827,.15],[829,.26],[831,.1],[833,.37],[835,.19],
[837,.06],[839,.28],[841,.14],[843,.4],[845,.21],[847,.09],[849,.32],[851,.17],[853,.03],[855,.25],[857,.44],[859,.12],[861,.2],[863,.36],[865,.08],[867,.27],[869,.15],[871,.47],[873,.11],[875,.23],[877,.31],[879,.05],[881,.19],[883,.38],[885,.13],[887,.26],[889,.09],[891,.42],[893,.17],[895,.3],[897,.02],[899,.22],[901,.35],[903,.12],[905,.27],[907,.07],[909,.18],[911,.45],[913,.14],[915,.25],[917,.1],[919,.33],[921,.2],[923,.04],[925,.28],[927,.16],[929,.4],[931,.11],[933,.23],[935,.06],[937,.31],[939,.18],[941,.13],[943,.37],[945,.08],[947,.24],
[950,.15],[952,.42],[954,.06],[956,.27],[958,.19],[960,.33],[962,.1],[964,.22],[966,.46],[968,.13],[970,.3],[972,.04],[974,.24],[976,.17],[978,.38],[980,.08],[982,.2],[984,.29],[986,.12],[988,.44],[990,.16],[992,.03],[994,.26],[996,.35],[998,.11],[1000,.21],[1002,.07],[1004,.31],[1006,.18],[1008,.4],[1010,.14],[1012,.25],[1014,.05],[1016,.33],[1018,.2],[1020,.1],[1022,.28],[1024,.47],[1026,.15],[1028,.23],[1030,.08],[1032,.36],[1034,.17],[1036,.27],[1038,.12],[1040,.41],[1042,.2],
[1045,.09],[1047,.3],[1049,.16],[1051,.45],[1053,.22],[1055,.05],[1057,.34],[1059,.13],[1061,.26],[1063,.19],[1065,.39],[1067,.08],[1069,.24],[1071,.31],[1073,.14],[1075,.2],[1077,.03],[1079,.28],[1081,.17],[1083,.43],[1085,.1],[1087,.25],[1089,.36],[1091,.15],[1093,.21],[1095,.06],[1097,.32],[1099,.18],[1101,.27],[1103,.11],[1105,.4],[1107,.2],[1109,.13],[1111,.3],[1113,.07],[1115,.23],[1117,.37],[1119,.16],[1121,.26],[1123,.09],[1125,.33],[1127,.19],[1129,.12],[1131,.44],[1133,.22],[1135,.05],
[1138,.27],[1140,.15],[1142,.36],[1144,.09],[1146,.22],[1148,.3],[1150,.17],[1152,.04],[1154,.26],[1156,.4],[1158,.12],[1160,.21],[1162,.33],[1164,.08],[1166,.19],[1168,.28],[1170,.14],[1172,.45],[1174,.24],[1176,.1],[1178,.31],[1180,.18],[1182,.06],[1184,.25],[1186,.38],[1188,.13],[1190,.2],[1192,.29],[1194,.07],[1196,.16],[1198,.42],[1200,.23],[1202,.11],[1204,.3],[1206,.19],[1208,.04],
[1211,.2],[1213,.28],[1215,.12],[1217,.24],[1219,.18],[1221,.06],[1223,.22],[1225,.3],[1227,.15],[1229,.25],[1231,.2],[1233,.1],[1235,.27],[1237,.22],[1239,.17],[1241,.24],[1243,.21],[1245,.13],[1247,.26],[1249,.2],[1251,.23],[1253,.08],[1255,.19],[1257,.24],[1259,.27],[1261,.21],[1263,.15],[1265,.25],[1267,.22],[1269,.31],[1271,.18],[1273,.26],[1275,.12],[1277,.23],[1279,.3],[1281,.05],[1283,.16],[1285,.13],[1287,.08],[1289,.18],[1291,.11],[1293,.03],[1295,.14],[1297,.07],[1299,.16],[1301,.1],[1303,.02],[1305,.12],[1307,.06],[1309,.15],[1311,.1]];

const thorneiExtra = [[0,.05],[4,.18],[8,.1],[12,.24],[16,.03],[20,.13],[24,.2],[28,.07],[32,.15],[36,.26],[40,.1],[44,.04],[48,.16],[52,.21],[56,.09],[60,.13],[64,.03],[68,.19],[72,.08],[76,.23],[80,.12],[84,.17],[88,.06],[92,.2],[96,.13],[100,.02],[104,.1],
[108,.06],[112,.14],[116,.21],[120,.08],[124,.17],[128,.04],[132,.12],[136,.23],[140,.06],[144,.15],[148,.1],[152,.2],[156,.03],[160,.13],[164,.08],[168,.19],[172,.11],[176,.05],[180,.16],[184,.22],[188,.07],[192,.14],[196,.1],[198,.18],
[202,.05],[206,.14],[210,.2],[214,.09],[218,.04],[222,.17],[226,.12],[230,.22],[234,.05],[238,.15],[242,.1],[246,.18],[250,.07],[254,.13],[258,.21],[262,.03],[266,.16],[270,.09],[274,.19],
[277,.08],[281,.17],[285,.03],[289,.13],[293,.22],[297,.09],[301,.15],[305,.05],[309,.12],[313,.19],[317,.07],[321,.15],[325,.02],[329,.1],[333,.18],[337,.06],[341,.13],[345,.22],[349,.09],[353,.16],
[357,.1],[361,.17],[365,.04],[369,.14],[373,.2],[377,.08],[381,.12],[385,.05],[389,.15],[393,.11],
[396,.06],[400,.14],[404,.09],[408,.2],[412,.12],[416,.17],[420,.04],[424,.11],[428,.19],[432,.07],[436,.13],[440,.22],[444,.16],
[449,.08],[453,.18],[457,.12],[461,.04],[465,.15],[469,.1],[473,.2],[477,.08],[481,.14],[485,.05],[489,.12],[493,.19],[497,.07],[501,.14],[505,.1],[509,.03],[513,.16],[517,.09],[521,.13],[525,.06],[529,.18],[533,.11],[537,.14],[541,.04],[545,.18],[549,.08],[553,.12],[557,.2],[561,.06],[565,.15],
[570,.07],[574,.13],[578,.04],[582,.18],[586,.09],[590,.15],[594,.11],[598,.03],[602,.16],[606,.1],[610,.2],[614,.05],[618,.13],[622,.16],[626,.07],[630,.2],[634,.1],[638,.06],[642,.15],[646,.12],[650,.04],[654,.18],[658,.08],[662,.13],
[666,.17],[670,.07],[674,.12],[678,.03],[682,.15],[686,.1],[690,.19],[694,.06],[698,.13],[702,.09],[706,.17],[710,.04],[714,.12],[718,.2],[722,.07],
[727,.14],[731,.06],[735,.18],[739,.1],[743,.02],[747,.15],[751,.07],[755,.13],[759,.18],[763,.06],[767,.1],
[772,.14],[776,.06],[780,.18],[784,.1],[788,.15],[792,.03],[796,.12],[800,.2],[804,.08],[808,.13],[812,.05],[816,.17],[820,.1],[824,.14],[828,.04],[832,.18],
[838,.12],[842,.05],[846,.17],[850,.1],[854,.14],[858,.06],[862,.19],[866,.11],[870,.03],[874,.15],[878,.09],[882,.13],[886,.05],[890,.16],[894,.1],[898,.14],[902,.04],[906,.18],[910,.09],[914,.13],[918,.06],[922,.15],[926,.1],[930,.2],[934,.13],[938,.04],[942,.16],[946,.11],
[949,.03],[953,.12],[957,.08],[961,.17],[965,.05],[969,.14],[973,.1],[977,.19],[981,.06],[985,.13],[989,.08],[993,.16],[997,.04],[1001,.14],[1005,.09],[1009,.17],[1013,.12],[1017,.06],[1021,.15],[1025,.1],[1029,.02],[1033,.13],[1037,.07],[1041,.16],
[1044,.13],[1048,.05],[1052,.17],[1056,.1],[1060,.06],[1064,.15],[1068,.11],[1072,.2],[1076,.08],[1080,.13],[1084,.05],[1088,.16],[1092,.1],[1096,.14],[1100,.04],[1104,.17],[1108,.09],[1112,.15],[1116,.12],[1120,.06],[1124,.18],[1128,.1],[1132,.14],[1136,.17],
[1139,.1],[1143,.2],[1147,.07],[1151,.14],[1155,.1],[1159,.05],[1163,.17],[1167,.12],[1171,.08],[1175,.15],[1179,.11],[1183,.04],[1187,.17],[1191,.13],[1195,.09],[1199,.14],[1203,.06],[1207,.12],
[1212,.17],[1216,.22],[1220,.14],[1224,.19],[1228,.23],[1232,.26],[1236,.18],[1240,.21],[1244,.25],[1248,.17],[1252,.22],[1256,.15],[1260,.23],[1264,.19],[1268,.25],[1272,.21],[1276,.16],[1280,.2],[1284,.11],[1288,.14],[1292,.08],[1296,.12],[1300,.05],[1304,.09],[1308,.04],[1312,.07]];

// ---------- DRAW ----------
const svg = d3.select("#chart");
const FONT = "'Open Sans', sans-serif";
const LABEL_FONT = "'DejaVu Sans', sans-serif";

const panels = [
  {bg:[8,6,1121,503], plot:{l:74.5,r:1121,t:37,b:463.7}, xMax:1368, yMax:2.647, yTicks:yTicksAB, yFmt:".2f",
   title:["a) P-Values by Chromosome for ","H. avenae"], titleY:28, posY:497, ends:chromEndsAC, thr:thresholdA, pts:[avenaeExtra,avenaeLow,avenaeHigh]},
  {bg:[8,507,1121,1008], plot:{l:75,r:1113,t:537.7,b:969.2}, xMax:1373, yMax:2.68, yTicks:yTicksAB, yFmt:".2f",
   title:["b) P-Values by Chromosome for ","P. neglectus"], titleY:527, posY:1005, ends:chromEndsB, thr:thresholdB, pts:[neglectusExtra,neglectusLow,neglectusHigh]},
  {bg:[8,1018,1121,1510], plot:{l:74,r:1121,t:1048.3,b:1475}, xMax:1375, yMax:1.88, yTicks:yTicksC, yFmt:".1f",
   title:["c) P-Values by Chromosome for ","P. thornei"], titleY:1038, posY:1507, ends:chromEndsAC, thr:thresholdC, pts:[thorneiExtra,thorneiLow,thorneiHigh]}
];

panels.forEach((P,pi) => {
  const g = svg.append("g");
  const [bx0,by0,bx1,by1] = P.bg;
  g.append("rect").attr("x",bx0).attr("y",by0).attr("width",bx1-bx0).attr("height",by1-by0).attr("fill","#efefef");
  const p = P.plot;
  const x = d3.scaleLinear().domain([0,P.xMax]).range([p.l,p.r]);
  const y = d3.scaleLinear().domain([0,P.yMax]).range([p.b,p.t]);

  g.append("rect").attr("x",p.l).attr("y",p.t).attr("width",p.r-p.l).attr("height",p.b-p.t)
    .attr("fill","#fff").attr("stroke","#cfcfcf").attr("stroke-width",1);

  g.append("g").selectAll("line").data(P.yTicks.slice(1)).join("line")
    .attr("x1",p.l).attr("x2",p.r).attr("y1",d=>y(d)).attr("y2",d=>y(d))
    .attr("stroke","#e4e4e4").attr("stroke-dasharray","2,2");
  g.append("g").selectAll("line").data(xTickValues.slice(1)).join("line")
    .attr("y1",p.t).attr("y2",p.b).attr("x1",d=>x(d)).attr("x2",d=>x(d))
    .attr("stroke","#ececec").attr("stroke-dasharray","2,2");

  const clipId = "clip"+pi;
  svg.append("clipPath").attr("id",clipId).append("rect")
    .attr("x",p.l).attr("y",p.t).attr("width",p.r-p.l).attr("height",p.b-p.t+3);
  const all = P.pts[0].concat(P.pts[1], P.pts[2]);
  g.append("g").attr("clip-path",`url(#${clipId})`).selectAll("rect").data(all).join("rect")
    .attr("x",d=>x(d[0])-4).attr("y",d=>y(d[1])-3).attr("width",8).attr("height",6)
    .attr("fill","#f36a6a").attr("fill-opacity",0.88).attr("stroke","#e24646").attr("stroke-width",0.9);

  g.append("line").attr("x1",p.l).attr("x2",p.r).attr("y1",y(P.thr)).attr("y2",y(P.thr))
    .attr("stroke","#6f9bd6").attr("stroke-width",1.6);

  g.append("g").selectAll("line").data(P.ends).join("line")
    .attr("x1",d=>x(d)).attr("x2",d=>x(d)).attr("y1",p.t).attr("y2",p.b)
    .attr("stroke","#1fab4f").attr("stroke-width",2).attr("stroke-dasharray","9,4");

  const starts = [0].concat(P.ends.slice(0,-1));
  chromosomes.forEach((c,i) => {
    const cx = x((starts[i]+P.ends[i])/2);
    const w = x(P.ends[i]) - x(starts[i]);
    const base = p.t + 64;
    const lbl = (yy,s) => g.append("text").attr("x",cx).attr("y",yy).attr("text-anchor","middle")
        .attr("font-size",15).attr("fill","#222").attr("font-family",LABEL_FONT).text(s);
    if (w < 17) { lbl(base-10,c[0]); lbl(base+13,c[1]); }
    else lbl(base,c);
  });

  const yAxis = d3.axisLeft(y).tickValues(P.yTicks).tickFormat(d3.format(P.yFmt)).tickSize(4).tickPadding(4);
  const ya = g.append("g").attr("transform",`translate(${p.l},0)`).call(yAxis);
  const xAxis = d3.axisBottom(x).tickValues(xTickValues).tickFormat(d3.format(",")).tickSize(4).tickPadding(3);
  const xa = g.append("g").attr("transform",`translate(0,${p.b})`).call(xAxis);
  [ya,xa].forEach(a => {
    a.select(".domain").attr("stroke","#8a8a8a");
    a.selectAll(".tick line").attr("stroke","#8a8a8a");
    a.selectAll(".tick text").attr("font-size",12).attr("font-weight",600).attr("fill","#404040").attr("font-family",FONT);
  });
  xa.select(".domain").attr("d",`M${p.l},0H${p.r}`);

  g.append("text").attr("transform",`translate(30,${(p.t+p.b)/2}) rotate(-90)`).attr("text-anchor","middle")
    .attr("font-size",12.5).attr("fill","#333").attr("font-family",FONT).text("-Log(P-Value)");
  g.append("text").attr("x",600).attr("y",P.posY).attr("text-anchor","middle")
    .attr("font-size",14.5).attr("fill","#333").attr("font-family",FONT).text("Position");

  const t = g.append("text").attr("x",560).attr("y",P.titleY).attr("text-anchor","middle")
    .attr("font-size",17.5).attr("font-weight",700).attr("fill","#1a1a1a").attr("font-family",LABEL_FONT);
  t.append("tspan").text(P.title[0]);
  t.append("tspan").attr("font-style","italic").text(P.title[1]);
});
</script></body></html>
